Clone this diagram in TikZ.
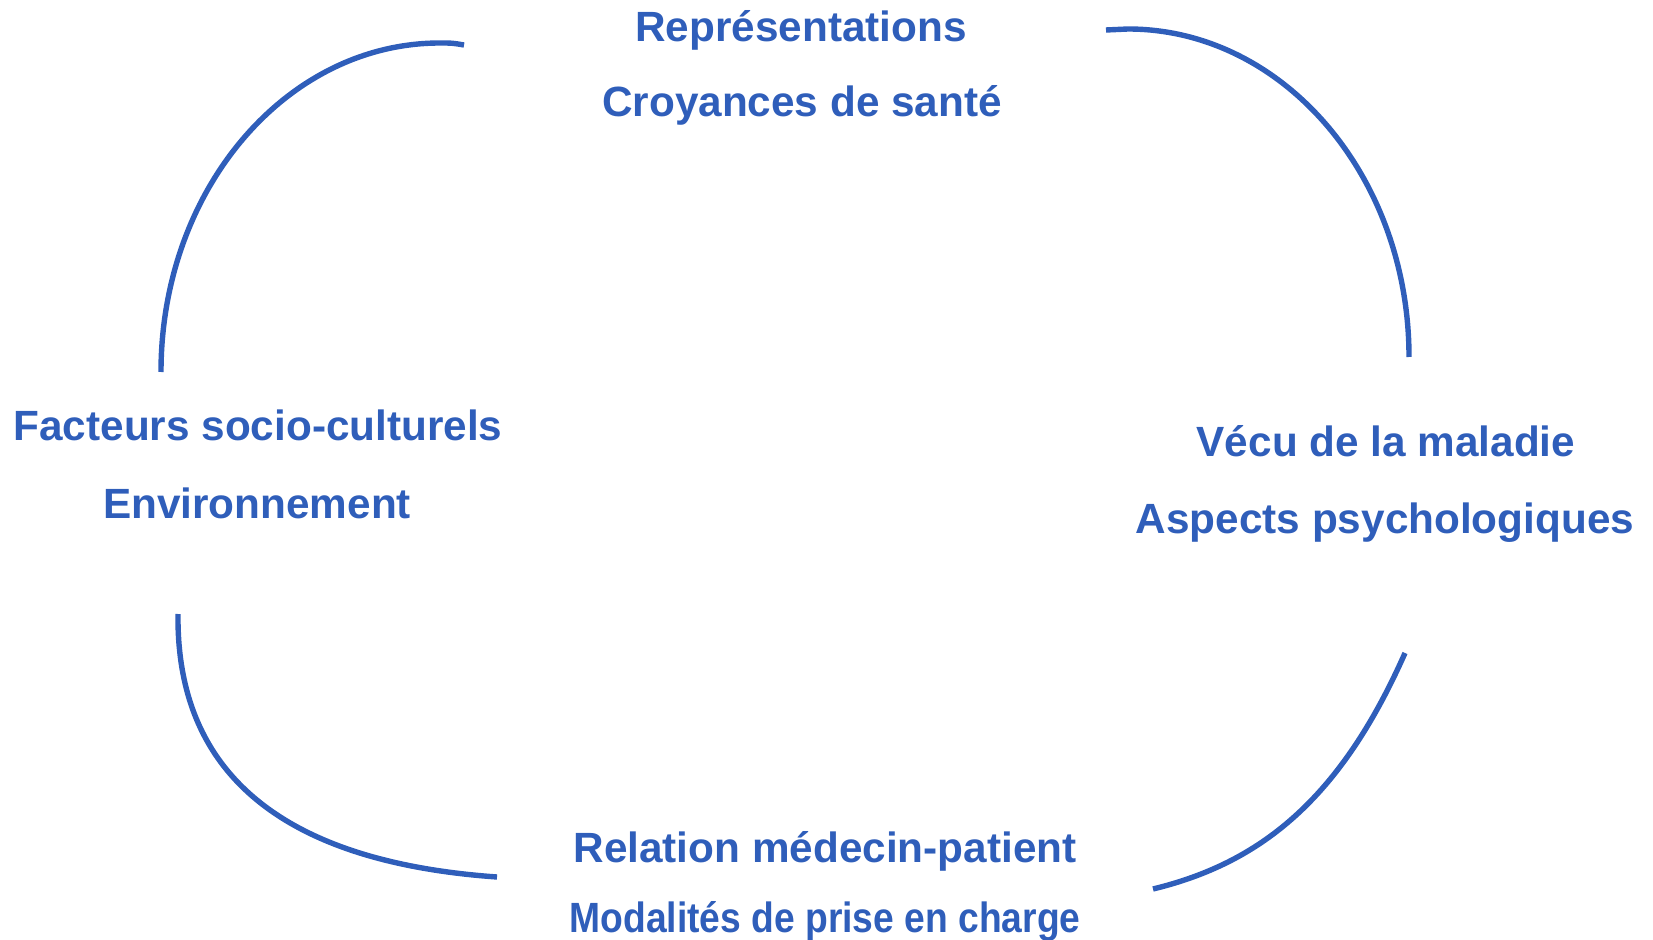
\documentclass[tikz,border=0pt]{standalone}
\usepackage{fontspec}
\setmainfont{Liberation Sans}
\usepackage{tikz}
\usetikzlibrary{calc}
\definecolor{cycleblue}{RGB}{47,94,186}

\begin{document}
\begin{tikzpicture}[
    x=0.5pt, y=-0.5pt,
    lbl/.style={anchor=base, inner sep=0pt, text=cycleblue, font=\fontsize{21.15pt}{25pt}\selectfont\bfseries},
    arc/.style={draw=cycleblue, line width=2.7pt}
]
\useasboundingbox (0,0) rectangle (1653,940);

% ========== TEXTES ==========
\node[lbl] (repr) at (801,42) {Représentations};
\node[lbl] (croy) at (802,117) {Croyances de santé};

\node[lbl] (fact) at (258,441) {Facteurs socio-culturels};
\node[lbl] (envi) at (257,518) {Environnement};

\node[lbl] (vecu) at (1386,457) {Vécu de la maladie};
\node[lbl] (aspe) at (1385,533) {Aspects psychologiques};

\node[lbl] (rela) at (825,862) {Relation médecin-patient};
\node[lbl] (moda) at (825,932) {\scalebox{0.88}[1]{Modalités de prise en charge}};

% ========== ARCS ==========
% haut gauche
\coordinate (tlA) at (161,372);
\coordinate (tlB) at (440,43);
\coordinate (tlC) at (464,45);
\draw[arc] (tlA) .. controls (161,190) and (286,43) .. (tlB) .. controls (452,43) .. (tlC);

% haut droite
\coordinate (trA) at (1106,30);
\coordinate (trB) at (1128,29);
\coordinate (trC) at (1409,357);
\draw[arc] (trA) .. controls (1117,29) .. (trB) .. controls (1283,29) and (1409,176) .. (trC);

% bas gauche
\coordinate (blA) at (178,614);
\coordinate (blB) at (497,877);
\draw[arc] (blA) .. controls (176,794) and (312,864) .. (blB);

% bas droite
\coordinate (brA) at (1405,653);
\coordinate (brB) at (1153,889);
\draw[arc] (brA) .. controls (1340,800) and (1260,863) .. (brB);

\end{tikzpicture}
\end{document}
